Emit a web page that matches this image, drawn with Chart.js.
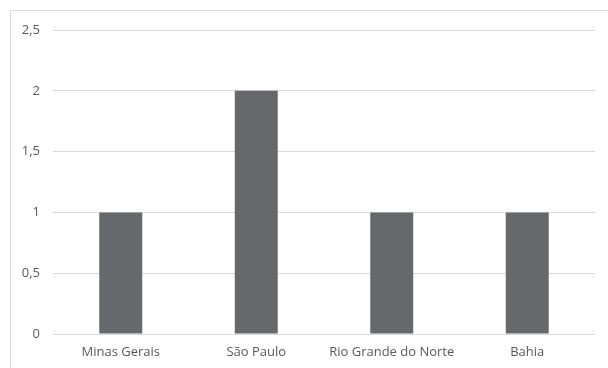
<!DOCTYPE html>
<html>
<head>
<meta charset="utf-8">
<script src="https://cdn.jsdelivr.net/npm/chart.js@4"></script>
<style>
  html, body { margin: 0; padding: 0; background: #fff; overflow: hidden; }
  #wrap { position: relative; width: 608px; height: 368px; }
  #frame { position: absolute; left: 10px; top: 10px; width: 640px; height: 400px; border: 1px solid #d9d9d9; }
  canvas { position: absolute; left: 0; top: 0; }
</style>
</head>
<body>
<div id="wrap">
  <div id="frame"></div>
  <canvas id="chart" width="608" height="368"></canvas>
</div>
<script>
const estados = ["Minas Gerais", "São Paulo", "Rio Grande do Norte", "Bahia"];
const quantidade = [1, 2, 1, 1];

const fmt = (v) => String(v).replace(".", ",");

new Chart(document.querySelector("#chart").getContext("2d"), {
  type: "bar",
  data: {
    labels: estados,
    datasets: [{
      data: quantidade,
      backgroundColor: "#67686c",
      barPercentage: 0.317,
      categoryPercentage: 1,
    }],
  },
  options: {
    responsive: false,
    animation: false,
    layout: { padding: { top: 30, right: 13, left: 0, bottom: 0 } },
    plugins: { legend: { display: false }, tooltip: { enabled: false } },
    scales: {
      x: {
        grid: { display: false, drawTicks: false },
        border: { display: false },
        ticks: { color: "#595959", font: { family: "Open Sans", size: 13 }, padding: 10 },
        afterFit: (s) => { s.height = 34; },
      },
      y: {
        min: 0,
        max: 2.5,
        ticks: {
          stepSize: 0.5,
          color: "#595959",
          font: { family: "Open Sans", size: 13 },
          padding: 13,
          callback: (v) => fmt(v),
        },
        grid: { color: "#d9d9d9", drawTicks: false },
        border: { display: false },
        afterFit: (s) => { s.width = 53; },
      },
    },
  },
});
</script>
</body>
</html>
